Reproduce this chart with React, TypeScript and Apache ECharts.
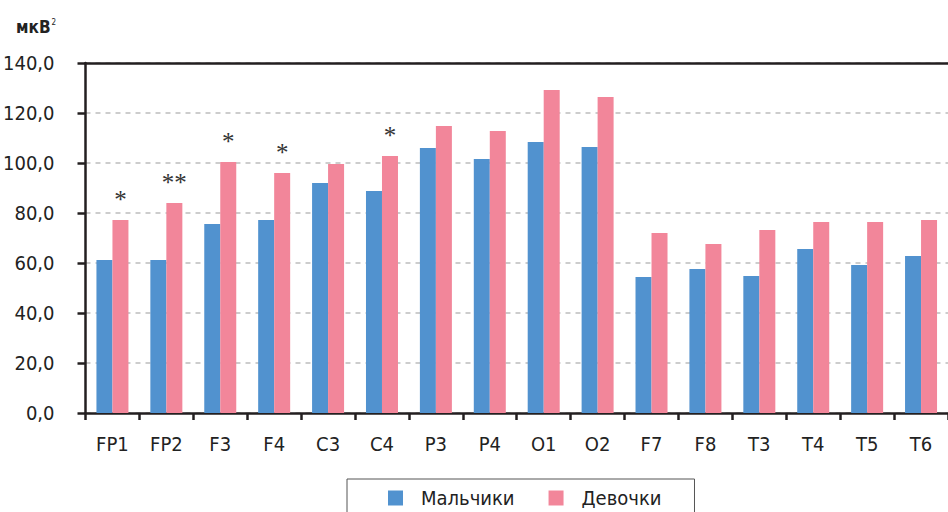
import React, { useEffect, useRef } from "react";
import * as echarts from "echarts";

const categories = ["FP1", "FP2", "F3", "F4", "C3", "C4", "P3", "P4", "O1", "O2", "F7", "F8", "T3", "T4", "T5", "T6"];
const boys = [61.2, 61.2, 75.6, 77.2, 92.0, 88.8, 106.0, 101.6, 108.4, 106.4, 54.4, 57.6, 54.8, 65.6, 59.2, 62.8];
const girls = [77.2, 84.0, 100.4, 96.0, 99.6, 102.8, 114.8, 112.8, 129.2, 126.4, 72.0, 67.6, 73.2, 76.4, 76.4, 77.2];
const marks = ["*", "**", "*", "*", "", "*", "", "", "", "", "", "", "", "", "", ""];
const seriesNames = ["Мальчики", "Девочки"];
const yTicks = { min: 0, max: 140, interval: 20 };
const unitLabel = "мкВ";

const FONT = "'Liberation Sans Narrow', 'DejaVu Sans Condensed', 'Roboto', sans-serif";

export default function App() {
  const ref = useRef<HTMLDivElement>(null);
  useEffect(() => {
    if (!ref.current) return;
    const chart = echarts.init(ref.current, null, { renderer: "svg" });
    chart.setOption({
      animation: false,
      backgroundColor: "#ffffff",
      textStyle: { fontFamily: FONT },
      grid: { left: 84, top: 63, width: 875, height: 350, containLabel: false },
      legend: {
        data: seriesNames,
        left: 347,
        top: 479,
        orient: "horizontal",
        itemWidth: 15,
        itemHeight: 15,
        itemGap: 34,
        icon: "rect",
        borderColor: "#555555",
        borderWidth: 1,
        borderRadius: 0,
        padding: [9, 33, 30, 41],
        textStyle: { fontFamily: FONT, fontSize: 20, color: "#222222", padding: [0, 0, 0, 13] },
        selectedMode: false,
      },
      graphic: [
        {
          type: "text",
          left: 16,
          top: 18,
          style: {
            text: "{a|" + unitLabel + "}{b|2}",
            rich: {
              a: { fontFamily: FONT, fontSize: 17, fontWeight: "bold", fill: "#222222" },
              b: { fontFamily: FONT, fontSize: 8, fill: "#222222", verticalAlign: "top", padding: [0, 0, 10, 1] },
            },
          },
        },
      ],
      xAxis: [
        {
          type: "category",
          data: categories,
          position: "bottom",
          boundaryGap: true,
          axisLine: { show: true, lineStyle: { color: "#231f20", width: 2.5 } },
          axisTick: { show: true, length: 7, lineStyle: { color: "#231f20", width: 2.5 } },
          axisLabel: { fontFamily: FONT, fontSize: 20, color: "#222222", margin: 21, interval: 0 },
          splitLine: { show: false },
        },
        {
          type: "category",
          data: categories,
          position: "top",
          axisLine: { show: true, lineStyle: { color: "#231f20", width: 2.5 } },
          axisTick: { show: false },
          axisLabel: { show: false },
          splitLine: { show: false },
        },
      ],
      yAxis: {
        type: "value",
        min: yTicks.min,
        max: yTicks.max,
        interval: yTicks.interval,
        axisLine: { show: true, lineStyle: { color: "#231f20", width: 2.5 } },
        axisTick: { show: true, length: 8, lineStyle: { color: "#231f20", width: 2.5 } },
        axisLabel: {
          fontFamily: FONT,
          fontSize: 20,
          color: "#222222",
          margin: 31,
          formatter: (v: number) => v.toFixed(1).replace(".", ","),
        },
        splitLine: { show: true, lineStyle: { color: "#bdbdbd", width: 1.5, type: [5, 5] } },
      },
      series: [
        {
          name: seriesNames[0],
          type: "bar",
          data: boys,
          barWidth: 16,
          barGap: "0%",
          itemStyle: { color: "#5192cf" },
        },
        {
          name: seriesNames[1],
          type: "bar",
          data: girls,
          barWidth: 16,
          barGap: "0%",
          itemStyle: { color: "#f2869a" },
          label: {
            show: true,
            position: "top",
            distance: 8,
            fontFamily: "'Liberation Serif', 'DejaVu Serif', serif",
            fontSize: 25,
            color: "#333333",
            formatter: (p: any) => marks[p.dataIndex],
          },
        },
      ],
    });
    return () => chart.dispose();
  }, []);
  return <div ref={ref} style={{ width: 948, height: 512, position: "absolute", left: 0, top: 0 }} />;
}
